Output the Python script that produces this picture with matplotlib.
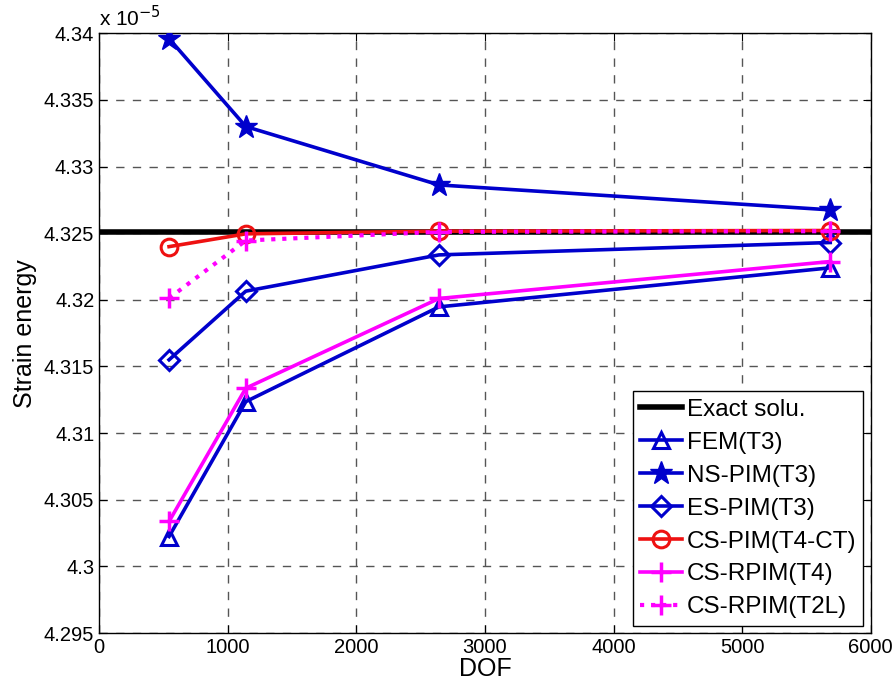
import numpy as np
import matplotlib.pyplot as plt
from matplotlib.ticker import FuncFormatter

plt.rcParams['font.family'] = ['Liberation Sans', 'DejaVu Sans']

# Graus de liberdade (DOF) e energia de deformação (x 1e-5).
dof = [543, 1140, 2642, 5685]
exact = 4.3251
fem_t3 = [4.30224, 4.31236, 4.31947, 4.32240]
ns_pim_t3 = [4.3396, 4.33300, 4.32862, 4.32675]
es_pim_t3 = [4.31550, 4.32065, 4.32337, 4.32430]
cs_pim_t4ct = [4.32399, 4.32495, 4.32515, 4.32520]
cs_rpim_t4 = [4.30337, 4.31337, 4.32010, 4.32287]
cs_rpim_t2l = [4.32012, 4.32445, 4.32510, 4.32515]

xticks = [0, 1000, 2000, 3000, 4000, 5000, 6000]
yticks = np.arange(4.295, 4.3401, 0.005)

blue = '#0000cc'
fig = plt.figure(figsize=(8.94, 6.9), dpi=100)
ax = fig.add_axes([0.111, 0.0826, 0.863, 0.8692])

ax.axhline(exact, color='k', linewidth=4, label='Exact solu.', zorder=2)
ax.plot(dof, fem_t3, color=blue, linewidth=2.6, marker='^', markersize=12,
        markerfacecolor='none', markeredgewidth=2.2, label='FEM(T3)', zorder=3)
ax.plot(dof, ns_pim_t3, color=blue, linewidth=2.6, marker='*', markersize=17,
        label='NS-PIM(T3)', zorder=3)
ax.plot(dof, es_pim_t3, color=blue, linewidth=2.6, marker='D', markersize=10,
        markerfacecolor='none', markeredgewidth=2.2, label='ES-PIM(T3)', zorder=3)
ax.plot(dof, cs_pim_t4ct, color='#ee1111', linewidth=2.6, marker='o', markersize=12,
        markerfacecolor='none', markeredgewidth=2.2, label='CS-PIM(T4-CT)', zorder=4)
ax.plot(dof, cs_rpim_t4, color='#ff00ff', linewidth=2.6, marker='+', markersize=15,
        markeredgewidth=2.5, label='CS-RPIM(T4)', zorder=4)
ax.plot(dof, cs_rpim_t2l, color='#ff00ff', linewidth=3, linestyle=':', marker='+',
        markersize=15, markeredgewidth=2.5, label='CS-RPIM(T2L)', zorder=4)

ax.set_xlim(0, 6000)
ax.set_ylim(4.295, 4.34)
ax.set_xticks(xticks)
ax.set_yticks(yticks)
ax.yaxis.set_major_formatter(FuncFormatter(lambda v, p: '%g' % round(v, 3)))
ax.tick_params(direction='in', top=True, right=True, labelsize=14.5, length=6)
ax.grid(True, linestyle=(0, (6, 6)), color='#555555', linewidth=1)
for s in ax.spines.values():
  s.set_linewidth(1)

ax.set_xlabel('DOF', fontsize=18, labelpad=0)
ax.set_ylabel('Strain energy', fontsize=18)
ax.yaxis.set_label_coords(-0.081, 0.5)
ax.text(0.0, 1.005, r'x 10$^{-5}$', transform=ax.transAxes, fontsize=15,
        ha='left', va='bottom')

leg = ax.legend(loc='lower right', fontsize=17.5, borderaxespad=0.3, labelspacing=0.45,
                handlelength=1.7, handletextpad=0.2, fancybox=False, framealpha=1,
                edgecolor='k', borderpad=0.3)
leg.get_frame().set_linewidth(1)

fig.savefig('out.png', dpi=100)
